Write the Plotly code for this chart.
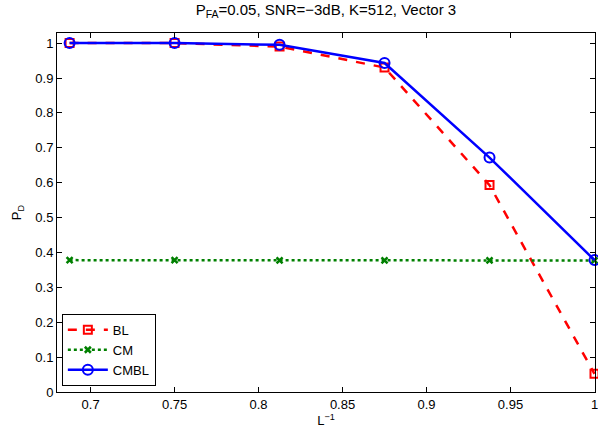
import plotly.graph_objects as go

x_vals = [0.6875, 0.75, 0.8125, 0.875, 0.9375, 1.0]
bl = [1.0, 1.0, 0.99, 0.93, 0.593, 0.052]
cm = [0.378, 0.378, 0.377, 0.377, 0.377, 0.377]
cmbl = [1.0, 1.0, 0.995, 0.943, 0.672, 0.378]
x_ticks = [0.7, 0.75, 0.8, 0.85, 0.9, 0.95, 1.0]
x_ticklabels = ["0.7", "0.75", "0.8", "0.85", "0.9", "0.95", "1"]
y_ticks = [0, 0.1, 0.2, 0.3, 0.4, 0.5, 0.6, 0.7, 0.8, 0.9, 1.0]
y_ticklabels = ["0", "0.1", "0.2", "0.3", "0.4", "0.5", "0.6", "0.7", "0.8", "0.9", "1"]

FONT = "Liberation Sans, Arial"

fig = go.Figure()
fig.add_trace(go.Scatter(x=x_vals, y=bl, name="BL", mode="lines+markers",
                         line=dict(color="#ff0000", width=2.5, dash="dash"),
                         marker=dict(symbol="square-open", size=8, color="#ff0000", line=dict(width=2)),
                         cliponaxis=False))
fig.add_trace(go.Scatter(x=x_vals, y=cm, name="CM", mode="lines+markers",
                         line=dict(color="#008000", width=2.5, dash="dot"),
                         marker=dict(symbol="x-thin-open", size=6, color="#008000", line=dict(width=2.5, color="#008000")),
                         cliponaxis=False))
fig.add_trace(go.Scatter(x=x_vals, y=cmbl, name="CMBL", mode="lines+markers",
                         line=dict(color="#0000ff", width=2.5),
                         marker=dict(symbol="circle-open", size=10, color="#0000ff", line=dict(width=2)),
                         cliponaxis=False))

axis_common = dict(showgrid=False, zeroline=False, showline=True, linecolor="black", linewidth=1,
                   mirror="ticks", ticks="inside", ticklen=5, tickcolor="black", automargin=False,
                   ticklabeloverflow="allow",
                   tickfont=dict(family=FONT, size=13, color="black"))

fig.update_layout(
    width=598, height=431,
    paper_bgcolor="white", plot_bgcolor="white",
    margin=dict(l=57, r=3, t=33, b=39),
    title=dict(text="P<sub>FA</sub>=0.05, SNR=−3dB, K=512, Vector 3",
               x=0.545, xanchor="center", y=0.99, yanchor="top",
               font=dict(family=FONT, size=15, color="black")),
    xaxis=dict(range=[0.68, 1.0003], tickvals=x_ticks, ticktext=x_ticklabels,
               title=dict(text="L<sup>−1</sup>", standoff=1,
                          font=dict(family=FONT, size=13, color="black")),
               **axis_common),
    yaxis=dict(range=[0, 1.029], tickvals=y_ticks, ticktext=y_ticklabels,
               title=dict(text="P<sub>D</sub>", standoff=10,
                          font=dict(family=FONT, size=13, color="black")),
               **axis_common),
    legend=dict(x=0.009, y=0.017, xanchor="left", yanchor="bottom",
                bgcolor="white", bordercolor="black", borderwidth=1,
                font=dict(family=FONT, size=13, color="black"),
                tracegroupgap=0, itemwidth=40),
    showlegend=True,
)

fig.write_html("out.html", config={"displayModeBar": False},
               post_script="document.body.style.margin='0';document.body.style.overflow='hidden';")
